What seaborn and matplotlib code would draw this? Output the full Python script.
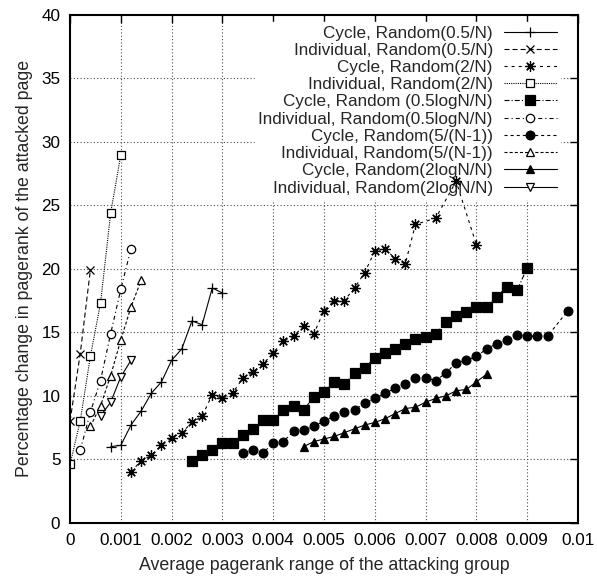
import matplotlib
matplotlib.use("Agg")
import matplotlib.pyplot as plt
import seaborn as sns

# Set visualisation styles
sns.set_style("white")
plt.rcParams["font.family"] = ["Liberation Sans", "DejaVu Sans"]
plt.rcParams["lines.scale_dashes"] = False

# Data
cycle_05_x = [0.0008, 0.0010, 0.0012, 0.0014, 0.0016, 0.0018, 0.0020, 0.0022, 0.0024, 0.0026, 0.0028, 0.0030]
cycle_05_y = [6.0, 6.1, 7.7, 8.8, 10.2, 11.1, 12.8, 13.7, 15.9, 15.6, 18.5, 18.1]

indiv_05_x = [0.0, 0.0002, 0.0004]
indiv_05_y = [8.0, 13.3, 19.9]

cycle_2_x = [0.0012, 0.0014, 0.0016, 0.0018, 0.0020, 0.0022, 0.0024, 0.0026, 0.0028, 0.0030,
             0.0032, 0.0034, 0.0036, 0.0038, 0.0040, 0.0042, 0.0044, 0.0046, 0.0048, 0.0050,
             0.0052, 0.0054, 0.0056, 0.0058, 0.0060, 0.0062, 0.0064, 0.0066, 0.0068, 0.0072,
             0.0076, 0.0080]
cycle_2_y = [4.0, 4.9, 5.3, 6.1, 6.7, 7.1, 7.9, 8.4, 10.1, 9.8,
             10.2, 11.4, 11.9, 12.5, 13.4, 14.3, 14.7, 15.5, 14.9, 16.7,
             17.5, 17.5, 18.5, 19.7, 21.4, 21.6, 20.8, 20.4, 23.5, 24.0,
             26.9, 21.9]

indiv_2_x = [0.0, 0.0002, 0.0004, 0.0006, 0.0008, 0.0010]
indiv_2_y = [4.6, 8.0, 13.1, 17.3, 24.4, 29.0]

cycle_05log_x = [0.0024, 0.0026, 0.0028, 0.0030, 0.0032, 0.0034, 0.0036, 0.0038, 0.0040, 0.0042,
                 0.0044, 0.0046, 0.0048, 0.0050, 0.0052, 0.0054, 0.0056, 0.0058, 0.0060, 0.0062,
                 0.0064, 0.0066, 0.0068, 0.0070, 0.0072, 0.0074, 0.0076, 0.0078, 0.0080, 0.0082,
                 0.0084, 0.0086, 0.0088, 0.0090]
cycle_05log_y = [4.9, 5.3, 5.7, 6.3, 6.3, 6.9, 7.4, 8.1, 8.1, 8.9,
                 9.2, 8.9, 9.9, 10.3, 11.1, 10.9, 11.8, 12.2, 13.0, 13.4,
                 13.7, 14.1, 14.5, 14.6, 14.9, 15.8, 16.3, 16.6, 17.0, 17.0,
                 17.8, 18.6, 18.3, 20.1]

indiv_05log_x = [0.0002, 0.0004, 0.0006, 0.0008, 0.0010, 0.0012]
indiv_05log_y = [5.7, 8.7, 11.2, 14.9, 18.4, 21.6]

cycle_5n_x = [0.0034, 0.0036, 0.0038, 0.0040, 0.0042, 0.0044, 0.0046, 0.0048, 0.0050, 0.0052,
              0.0054, 0.0056, 0.0058, 0.0060, 0.0062, 0.0064, 0.0066, 0.0068, 0.0070, 0.0072,
              0.0074, 0.0076, 0.0078, 0.0080, 0.0082, 0.0084, 0.0086, 0.0088, 0.0090, 0.0092,
              0.0094, 0.0098]
cycle_5n_y = [5.5, 5.7, 5.5, 6.3, 6.4, 7.2, 7.3, 7.6, 8.0, 8.4,
              8.7, 8.9, 9.4, 9.8, 10.2, 10.6, 10.9, 11.4, 11.4, 11.2,
              11.8, 12.6, 12.8, 13.1, 13.7, 14.1, 14.4, 14.8, 14.7, 14.7,
              14.7, 16.7]

indiv_5n_x = [0.0004, 0.0006, 0.0008, 0.0010, 0.0012, 0.0014]
indiv_5n_y = [7.6, 9.2, 11.6, 14.4, 17.0, 19.1]

cycle_2log_x = [0.0046, 0.0048, 0.0050, 0.0052, 0.0054, 0.0056, 0.0058, 0.0060, 0.0062, 0.0064,
                0.0066, 0.0068, 0.0070, 0.0072, 0.0074, 0.0076, 0.0078, 0.0080, 0.0082]
cycle_2log_y = [6.0, 6.4, 6.6, 6.8, 7.1, 7.4, 7.7, 7.9, 8.2, 8.6,
                9.0, 9.1, 9.5, 9.8, 10.0, 10.4, 10.5, 11.1, 11.7]

indiv_2log_x = [0.0006, 0.0008, 0.0010, 0.0012]
indiv_2log_y = [8.4, 9.5, 11.5, 12.8]

labels = [
    "Cycle, Random(0.5/N)",
    "Individual, Random(0.5/N)",
    "Cycle, Random(2/N)",
    "Individual, Random(2/N)",
    "Cycle, Random (0.5logN/N)",
    "Individual, Random(0.5logN/N)",
    "Cycle, Random(5/(N-1))",
    "Individual, Random(5/(N-1))",
    "Cycle, Random(2logN/N)",
    "Individual, Random(2logN/N)",
]

x_ticks = [0, 0.001, 0.002, 0.003, 0.004, 0.005, 0.006, 0.007, 0.008, 0.009, 0.01]
x_tick_labels = ["0", "0.001", "0.002", "0.003", "0.004", "0.005", "0.006", "0.007", "0.008", "0.009", "0.01"]
y_ticks = [0, 5, 10, 15, 20, 25, 30, 35, 40]

series = [
    (cycle_05_x, cycle_05_y), (indiv_05_x, indiv_05_y),
    (cycle_2_x, cycle_2_y), (indiv_2_x, indiv_2_y),
    (cycle_05log_x, cycle_05log_y), (indiv_05log_x, indiv_05log_y),
    (cycle_5n_x, cycle_5n_y), (indiv_5n_x, indiv_5n_y),
    (cycle_2log_x, cycle_2log_y), (indiv_2log_x, indiv_2log_y),
]

# marker, size, face colour, line style (dash lengths in points)
styles = [
    ("+", 7.5, "k", "-"),
    ("x", 6.0, "k", (0, (3.6, 2.2))),
    ((8, 2, 0), 7.5, "k", (0, (2.2, 2.9))),
    ("s", 5.5, "white", (0, (0.8, 0.8))),
    ("s", 6.5, "k", (0, (3.6, 1.5, 0.8, 1.5))),
    ("o", 6.0, "white", (0, (2.9, 2.2, 0.8, 2.2))),
    ("o", 6.3, "k", (0, (2.2, 2.2))),
    ("^", 6.0, "white", (0, (2.2, 1.5))),
    ("^", 6.0, "k", "-"),
    ("v", 6.0, "white", "-"),
]

fig = plt.figure(figsize=(5.97, 5.79), dpi=100)
ax = fig.add_axes([0.1173, 0.0971, 0.8509, 0.8770])

for (xs, ys), label, (mk, ms, mfc, ls) in zip(series, labels, styles):
    sns.lineplot(x=xs, y=ys, ax=ax, label=label, color="k", sort=False,
                 estimator=None, errorbar=None, marker=mk, markersize=ms,
                 markerfacecolor=mfc, markeredgecolor="k", markeredgewidth=0.9,
                 linewidth=0.8, linestyle=ls)

ax.set_xlim(0, 0.01)
ax.set_ylim(0, 40)
ax.set_xticks(x_ticks)
ax.set_xticklabels(x_tick_labels)
ax.set_yticks(y_ticks)

# dotted grid drawn below the legend box
for xt in x_ticks[1:-1]:
    ax.axvline(xt, color="0.3", lw=0.8, ls=(0, (0.8, 1.6)), zorder=0.5)
for yt in y_ticks[1:-1]:
    ax.axhline(yt, color="0.3", lw=0.8, ls=(0, (0.8, 1.6)), zorder=0.5)

ax.tick_params(direction="in", length=6, width=1, top=True, right=True,
               labelsize=12.3, pad=7, colors="k")
for sp in ax.spines.values():
    sp.set_linewidth(1.5)
    sp.set_color("k")

ax.set_xlabel("Average pagerank range of the attacking group", fontsize=12.8, labelpad=7)
ax.set_ylabel("Percentage change in pagerank of the attacked page", fontsize=12.8, labelpad=6)

leg = ax.legend(loc="upper right", bbox_to_anchor=(0.965, 0.986), markerfirst=False,
                frameon=True, fontsize=12.3, handlelength=3.1, handletextpad=0.65,
                labelspacing=0.13, borderpad=0.2, borderaxespad=0.0, fancybox=False)
leg.get_frame().set_facecolor("white")
leg.get_frame().set_edgecolor("white")
leg.get_frame().set_alpha(1)
leg.set_zorder(1)

fig.savefig("out.png", dpi=100)
